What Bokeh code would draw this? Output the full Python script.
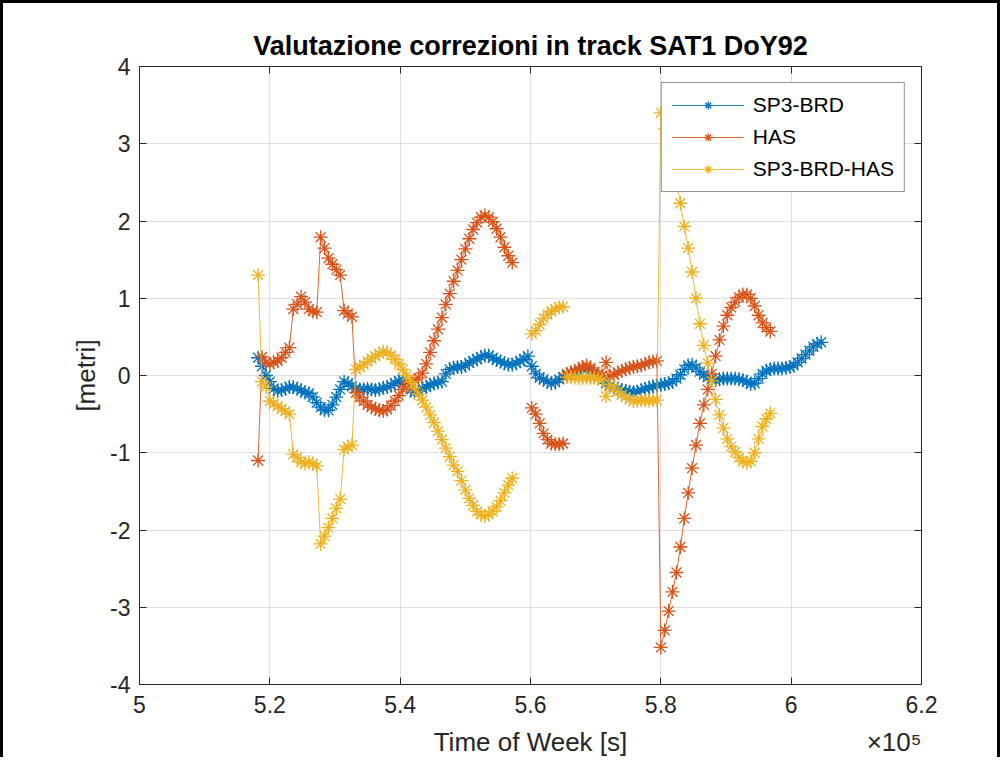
import numpy as np
from bokeh.plotting import figure
from bokeh.models import (Range1d, LinearAxis, FixedTicker, CustomJSTickFormatter,
                          Legend, LegendItem)
from bokeh.embed import file_html
from bokeh.resources import INLINE

# ---------------- data ----------------
TOW_START = 518200      # first epoch [s]
TOW_STEP = 600          # sampling [s]

sp3_brd = [0.23, 0.12, 0.00, -0.08, -0.17, -0.20, -0.19, -0.17, -0.15, -0.15,
           -0.17, -0.19, -0.22, -0.23, -0.28, -0.35, -0.41, -0.45, -0.45, -0.38,
           -0.28, -0.18, -0.08, -0.10, -0.14, -0.17, -0.18, -0.18, -0.17, -0.18,
           -0.19, -0.18, -0.16, -0.15, -0.13, -0.10, -0.07, -0.06, -0.12, -0.18,
           -0.22, -0.20, -0.17, -0.15, -0.12, -0.10, -0.09, -0.08, 0.02, 0.08,
           0.10, 0.11, 0.11, 0.13, 0.16, 0.19, 0.21, 0.24, 0.26, 0.26,
           0.23, 0.20, 0.18, 0.16, 0.14, 0.14, 0.16, 0.19, 0.21, 0.25,
           0.12, 0.02, -0.03, -0.05, -0.08, -0.10, -0.09, -0.05, -0.02, 0.00,
           0.02, 0.03, 0.05, 0.08, 0.10, 0.07, 0.02, -0.02, -0.06, -0.10,
           -0.13, -0.15, -0.17, -0.19, -0.20, -0.21, -0.22, -0.21, -0.19, -0.17,
           -0.16, -0.14, -0.13, -0.12, -0.11, -0.10, -0.08, -0.04, 0.01, 0.08,
           0.13, 0.14, 0.10, 0.05, 0.01, -0.02, -0.05, -0.06, -0.05, -0.04,
           -0.04, -0.04, -0.04, -0.05, -0.06, -0.08, -0.11, -0.10, -0.04, 0.02,
           0.06, 0.08, 0.09, 0.09, 0.09, 0.10, 0.11, 0.13, 0.17, 0.22,
           0.27, 0.32, 0.37, 0.41, 0.43]

# HAS correction: three arcs, each with index of first epoch
has_arc1_start = 0
has_arc1 = [-1.10, 0.24, 0.17, 0.15, 0.17, 0.19, 0.23, 0.30, 0.36, 0.86,
            0.92, 1.02, 0.95, 0.86, 0.83, 0.82, 1.79, 1.65, 1.52, 1.44,
            1.37, 1.30, 0.84, 0.80, 0.76, -0.22, -0.28, -0.33, -0.38, -0.41,
            -0.43, -0.45, -0.46, -0.44, -0.39, -0.33, -0.26, -0.18, -0.13, -0.09,
            -0.06, -0.03, 0.03, 0.15, 0.30, 0.45, 0.60, 0.75, 0.92, 1.06,
            1.22, 1.36, 1.50, 1.64, 1.77, 1.89, 1.98, 2.05, 2.07, 2.05,
            1.99, 1.90, 1.79, 1.66, 1.55, 1.46]
has_arc2_start = 70
has_arc2 = [-0.42, -0.50, -0.62, -0.75, -0.83, -0.88, -0.89, -0.89, -0.88]
has_arc3_start = 79
has_arc3 = [0.02, 0.04, 0.06, 0.08, 0.11, 0.13, 0.10, 0.05, 0.02, 0.00,
            0.17, -0.01, 0.01, 0.04, 0.06, 0.08, 0.10, 0.11, 0.12, 0.13,
            0.15, 0.17, 0.18, 0.19,
            -3.52, -3.30, -3.05, -2.80, -2.55, -2.22, -1.85, -1.52, -1.20, -0.90,
            -0.62, -0.38, -0.18, 0.02, 0.25, 0.46, 0.64, 0.78, 0.88, 0.95,
            1.01, 1.05, 1.05, 1.00, 0.90, 0.78, 0.68, 0.62, 0.57]

# SP3-BRD-HAS: same arcs
diff_arc1 = [1.30, -0.08, -0.15, -0.33, -0.37, -0.40, -0.43, -0.46, -0.50, -1.02,
             -1.06, -1.12, -1.14, -1.12, -1.14, -1.17, -2.18, -2.08, -1.97, -1.85,
             -1.72, -1.60, -0.96, -0.92, -0.90, 0.08, 0.11, 0.14, 0.18, 0.22,
             0.25, 0.28, 0.31, 0.30, 0.26, 0.21, 0.15, 0.08, 0.00, -0.08,
             -0.16, -0.24, -0.32, -0.41, -0.51, -0.61, -0.72, -0.83, -0.94, -1.05,
             -1.16, -1.24, -1.36, -1.48, -1.59, -1.68, -1.76, -1.80, -1.82, -1.80,
             -1.76, -1.70, -1.62, -1.52, -1.42, -1.33]
diff_arc2 = [0.54, 0.58, 0.66, 0.74, 0.79, 0.83, 0.86, 0.88, 0.89]
diff_arc3 = [-0.02, -0.02, -0.03, -0.03, -0.03, -0.03, -0.03, -0.03, -0.04, -0.06,
             -0.27, -0.12, -0.16, -0.21, -0.25, -0.28, -0.31, -0.33, -0.33, -0.32,
             -0.32, -0.33, -0.32, -0.32,
             3.40, 3.19, 2.95, 2.72, 2.51, 2.23, 1.93, 1.65, 1.34, 1.00,
             0.67, 0.39, 0.16, -0.07, -0.31, -0.51, -0.68, -0.82, -0.92, -0.99,
             -1.06, -1.11, -1.13, -1.11, -1.00, -0.82, -0.66, -0.56, -0.49]

series_names = ["SP3-BRD", "HAS", "SP3-BRD-HAS"]
x_ticks = [5, 5.2, 5.4, 5.6, 5.8, 6, 6.2]
y_ticks = [-4, -3, -2, -1, 0, 1, 2, 3, 4]
title_text = "Valutazione correzioni in track SAT1 DoY92"
x_label = "Time of Week [s]"
x_label_pos = 5.6
x_exp_label = "×10⁵"
x_exp_pos = 6.158
y_label = "[metri]"


def arc_xy(arcs):
    xs, ys = [], []
    for start, vals in arcs:
        if xs:
            xs.append(np.nan)
            ys.append(np.nan)
        t = TOW_START + TOW_STEP * (start + np.arange(len(vals)))
        xs.extend((t / 1e5).tolist())
        ys.extend(vals)
    return xs, ys


bx, by = arc_xy([(0, sp3_brd)])
hx, hy = arc_xy([(has_arc1_start, has_arc1), (has_arc2_start, has_arc2), (has_arc3_start, has_arc3)])
dx_, dy_ = arc_xy([(has_arc1_start, diff_arc1), (has_arc2_start, diff_arc2), (has_arc3_start, diff_arc3)])

# ---------------- figure ----------------
FONT = "Liberation Sans"
AX = "#262626"

p = figure(width=1000, height=757, output_backend="svg", toolbar_location=None,
           x_range=Range1d(5, 6.2), y_range=Range1d(-4, 4), title=title_text,
           min_border_left=136, min_border_right=82, min_border_top=63, min_border_bottom=76)
p.styles = {"border-top": "3px solid black", "border-left": "3px solid black",
            "border-right": "3px solid black"}
p.background_fill_color = "white"
p.border_fill_color = "white"
p.outline_line_color = AX
p.outline_line_width = 1

p.title.align = "center"
p.title.text_font = FONT
p.title.text_font_size = "27px"
p.title.text_font_style = "bold"
p.title.text_color = "black"
p.title.standoff = 12

bottom_ax = p.below[0]
left_ax = p.left[0]

fmt = CustomJSTickFormatter(code="return (Math.round(tick*10)/10).toString();")
xt = FixedTicker(ticks=x_ticks)
yt = FixedTicker(ticks=y_ticks)
bottom_ax.ticker = xt
left_ax.ticker = yt
bottom_ax.formatter = fmt
left_ax.formatter = fmt

top_ax = LinearAxis(ticker=xt, formatter=fmt)
right_ax = LinearAxis(ticker=yt, formatter=fmt)
p.add_layout(top_ax, "above")
p.add_layout(right_ax, "right")

for ax in [bottom_ax, left_ax, top_ax, right_ax]:
    ax.axis_line_color = AX
    ax.axis_line_width = 1
    ax.major_tick_line_color = AX
    ax.major_tick_in = 7
    ax.major_tick_out = 0
    ax.minor_tick_line_color = None
    ax.major_label_text_font = FONT
    ax.major_label_text_font_size = "23px"
    ax.major_label_text_color = AX
bottom_ax.major_label_standoff = 11
left_ax.major_label_standoff = 9
for ax in [top_ax, right_ax]:
    ax.major_label_text_font_size = "0px"
    ax.major_label_standoff = 0

left_ax.axis_label = y_label
left_ax.axis_label_text_font = FONT
left_ax.axis_label_text_font_size = "26px"
left_ax.axis_label_text_font_style = "normal"
left_ax.axis_label_text_color = AX
left_ax.axis_label_standoff = 6

# second row below the tick labels: x label and the exponent
label_ax = LinearAxis(
    ticker=FixedTicker(ticks=[x_label_pos, x_exp_pos]),
    formatter=CustomJSTickFormatter(
        args=dict(a=x_label_pos, la=x_label, lb=x_exp_label),
        code="return Math.abs(tick - a) < 1e-6 ? la : lb;"))
label_ax.axis_line_color = None
label_ax.major_tick_line_color = None
label_ax.minor_tick_line_color = None
label_ax.major_label_text_font = FONT
label_ax.major_label_text_font_size = "26px"
label_ax.major_label_text_color = AX
label_ax.major_label_standoff = 5
p.add_layout(label_ax, "below")

p.xgrid.grid_line_color = "#dfdfdf"
p.ygrid.grid_line_color = "#dfdfdf"
p.xgrid.ticker = xt
p.ygrid.ticker = yt

colors = ["#0072BD", "#D95319", "#EDB120"]
items = []
for (xs, ys), c, name in zip([(bx, by), (hx, hy), (dx_, dy_)], colors, series_names):
    l = p.line(xs, ys, line_color=c, line_width=0.9)
    s = p.scatter(xs, ys, marker="asterisk", size=14, line_color=c, line_width=1.3)
    items.append(LegendItem(label=name, renderers=[l, s]))

legend = Legend(items=items, location="top_right")
legend.label_text_font = FONT
legend.label_text_font_size = "21px"
legend.label_text_color = "black"
legend.border_line_color = AX
legend.border_line_width = 1
legend.background_fill_color = "white"
legend.background_fill_alpha = 1
legend.glyph_width = 72
legend.glyph_height = 20
legend.label_standoff = 9
legend.padding = 10
legend.spacing = 8
legend.margin = 16
p.add_layout(legend)

open("out.html", "w").write(file_html(p, INLINE))
